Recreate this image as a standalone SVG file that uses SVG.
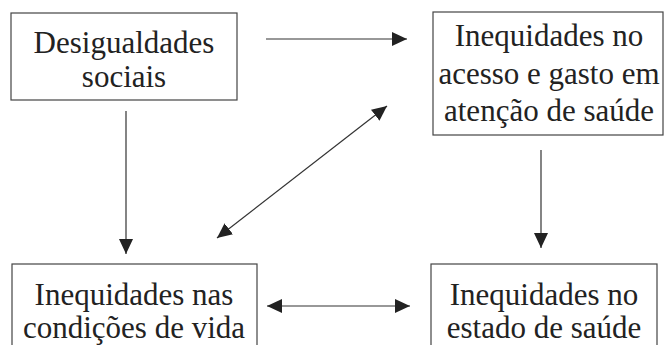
<svg xmlns="http://www.w3.org/2000/svg" width="665" height="345" viewBox="0 0 665 345">
<style>
.box{fill:#fff;stroke:#444;stroke-width:1.2}
.t{font-size:31px;fill:#222;text-anchor:middle}
.c{stroke:#333;stroke-width:1.2;fill:none}
</style>
<defs>
<marker id="ah" viewBox="0 0 15 14" refX="15" refY="7" markerWidth="15" markerHeight="14" markerUnits="userSpaceOnUse" orient="auto-start-reverse">
<path d="M0,0 L15,7 L0,14 Z" fill="#222"/>
</marker>
</defs>
<rect width="665" height="345" fill="#fff"/>
<g font-family="'Liberation Serif', 'DejaVu Serif', serif">
<g id="n1">
<rect class="box" x="11" y="13" width="226" height="87"/>
<text class="t" x="124" y="53">Desigualdades</text>
<text class="t" x="124" y="87">sociais</text>
</g>
<g id="n2">
<rect class="box" x="433" y="12" width="230" height="123"/>
<text class="t" x="549" y="46">Inequidades no</text>
<text class="t" x="549" y="84">acesso e gasto em</text>
<text class="t" x="549" y="121">atenção de saúde</text>
</g>
<g id="n3">
<rect class="box" x="12" y="264" width="245" height="100"/>
<text class="t" x="134" y="305">Inequidades nas</text>
<text class="t" x="134" y="338">condições de vida</text>
</g>
<g id="n4">
<rect class="box" x="431" y="264" width="226" height="100"/>
<text class="t" x="544" y="305">Inequidades no</text>
<text class="t" x="544" y="338">estado de saúde</text>
</g>
</g>
<g id="connectors">
<line class="c" x1="266" y1="39" x2="407" y2="39" marker-end="url(#ah)"/>
<line class="c" x1="126" y1="111" x2="126" y2="254" marker-end="url(#ah)"/>
<line class="c" x1="541" y1="150" x2="541" y2="248" marker-end="url(#ah)"/>
<line class="c" x1="217" y1="238" x2="387" y2="106" marker-start="url(#ah)" marker-end="url(#ah)"/>
<line class="c" x1="267" y1="306" x2="410" y2="306" marker-start="url(#ah)" marker-end="url(#ah)"/>
</g>
</svg>
